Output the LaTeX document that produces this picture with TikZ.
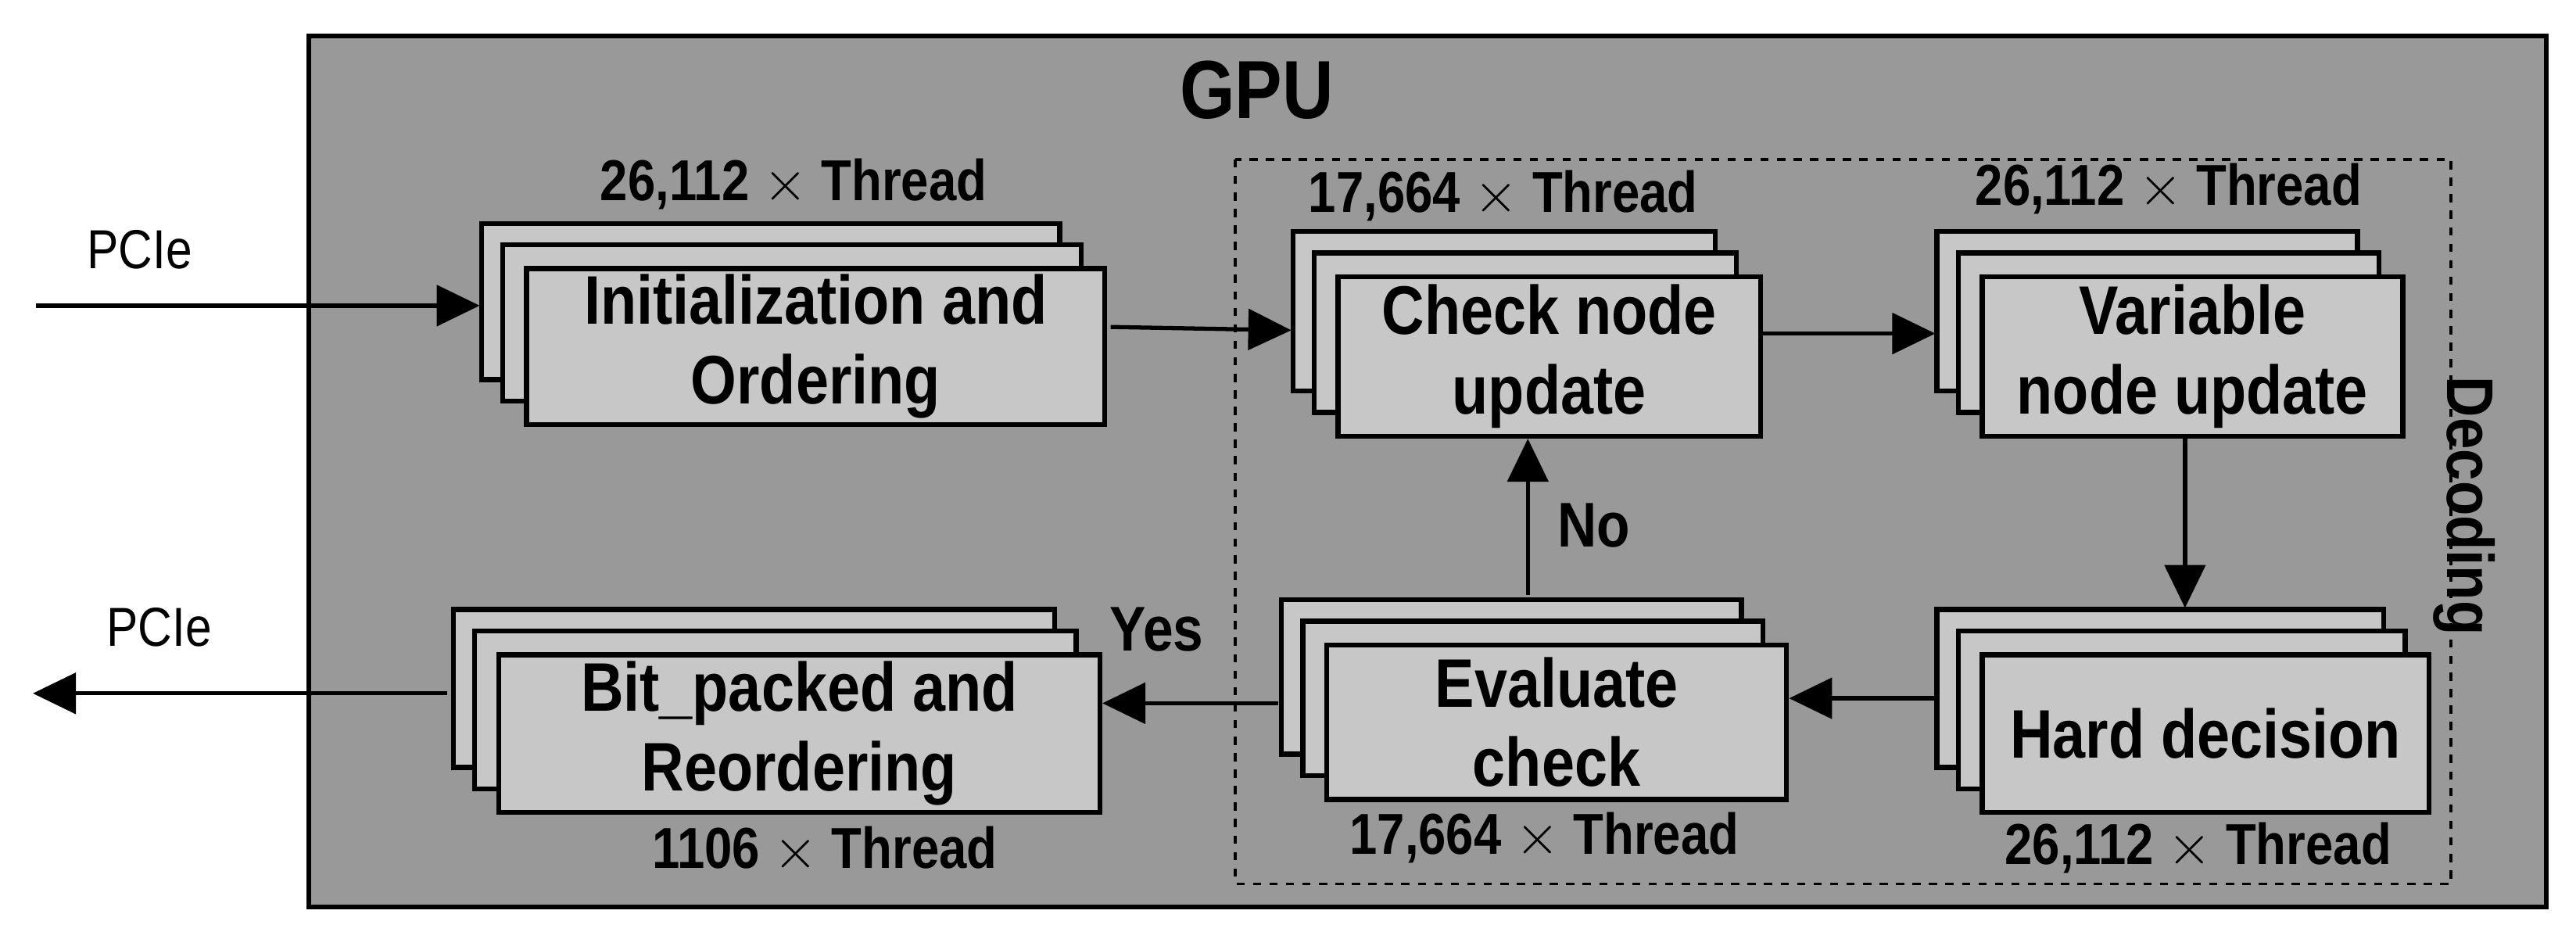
\documentclass[tikz,border=0pt]{standalone}
\usepackage{fontspec}
\setmainfont{Liberation Sans}[FakeStretch=0.86]
\usetikzlibrary{arrows.meta}
\definecolor{gpu}{gray}{0.6}
\definecolor{boxf}{gray}{0.78}
\tikzset{
  x=0.02101cm,y=-0.02101cm,
  lay/.style={draw=black,line width=1.8pt,fill=boxf},
  arr/.style={line width=1.5pt,-{Triangle[length=0.55cm,width=0.52cm]}},
  btxt/.style={font=\fontsize{25}{29}\selectfont\bfseries,align=center},
  lbl/.style={font=\fontsize{21}{24}\selectfont\bfseries},
}
\newcommand\mystack[6]{%
  \draw[lay] (#2,#3) rectangle ++(#4,#5);
  \draw[lay] (#2+13,#3+13) rectangle ++(#4,#5);
  \node[lay,minimum width=#4*0.02101cm,minimum height=#5*0.02101cm,anchor=north west,inner sep=0pt] (#1) at (#2+26,#3+26) {};
  \node[btxt] at (#1.center) {#6};
}
\begin{document}
\begin{tikzpicture}
\useasboundingbox (0,0) rectangle (1568,567);
\fill[white] (0,0) rectangle (1568,567);
\draw[fill=gpu,line width=1.8pt] (188,22) rectangle (1550,552);
\node[font=\fontsize{30}{34}\selectfont\bfseries] (gpu) at (765,55) {GPU};
\draw[dashed,line width=1.1pt] (752,97) rectangle (1492,538);
\node[font=\fontsize{24}{28}\selectfont\bfseries,rotate=-90] (dec) at (1500,308) {Decoding};
\mystack{init}{293}{136}{352}{95}{Initialization and\\Ordering}
\mystack{chk}{787}{141}{257}{97}{Check node\\update}
\mystack{var}{1179}{141}{256}{97}{Variable\\node update}
\mystack{hard}{1179}{371}{272}{96}{Hard decision}
\mystack{eval}{780}{365}{280}{94}{Evaluate\\check}
\mystack{bit}{276}{371}{366}{96}{Bit\_packed and\\Reordering}
\node[lbl] (l1) at (483,112) {26,112 $\times$ Thread};
\node[lbl] (l2) at (915,119) {17,664 $\times$ Thread};
\node[lbl] (l3) at (1320,115) {26,112 $\times$ Thread};
\node[lbl] (l4) at (1338,516) {26,112 $\times$ Thread};
\node[lbl] (l5) at (940,510) {17,664 $\times$ Thread};
\node[lbl] (l6) at (502,517) {1106 $\times$ Thread};
\node[font=\fontsize{20}{23}\selectfont] (p1) at (85,152) {PCIe};
\node[font=\fontsize{20}{23}\selectfont] (p2) at (97,382) {PCIe};
\coordinate (in) at (22,186);
\coordinate (out) at (20,422);
\draw[arr] (in) -- (292,186);
\draw[arr] (676,199) -- (786,201);
\draw[arr] (chk.east|-0,203) -- (1178,203);
\draw[arr] (var.south-|1330,0) -- (1330,370);
\draw[arr] (1178,425) -- (eval.east|-0,425);
\draw[arr] (930,362) -- (chk.south-|930,0);
\node[font=\fontsize{23}{26}\selectfont\bfseries] (no) at (970,320) {No};
\draw[arr] (778,428) -- (bit.east|-0,428);
\node[font=\fontsize{23}{26}\selectfont\bfseries] (yes) at (704,383) {Yes};
\draw[arr] (272,422) -- (out);
\end{tikzpicture}
\end{document}
